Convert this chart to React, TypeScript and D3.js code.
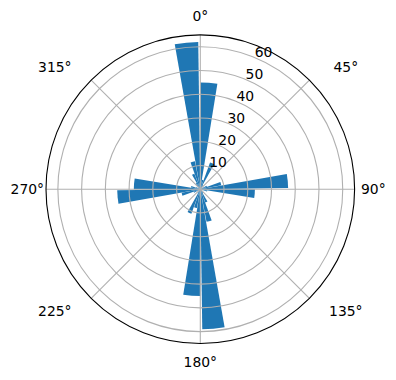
import React from 'react';
import * as d3 from 'd3';

// Bin start angles (degrees, clockwise from north)
const binStarts = [0, 10, 20, 30, 40, 50, 60, 70, 80, 90, 100, 110, 120, 130, 140, 150, 160, 170,
  180, 190, 200, 210, 220, 230, 240, 250, 260, 270, 280, 290, 300, 310, 320, 330, 340, 350];
// Bar heights (counts)
const counts = [45, 4, 12, 2, 1, 1, 3, 9, 37, 23, 3, 1, 0, 1, 2, 6, 14, 59,
  45, 8, 11, 2, 1, 1, 3, 8, 35, 28, 4, 2, 1, 1, 3, 7, 12, 62];
const thetaTicks = [0, 45, 90, 135, 180, 225, 270, 315];
const thetaLabels = ['0°', '45°', '90°', '135°', '180°', '225°', '270°', '315°'];
const rTicks = [10, 20, 30, 40, 50, 60];
const rMax = 65;
const barWidthDeg = 9.2;

export default function App() {
  const W = 396, H = 380;
  const cx = 200.3, cy = 189.2, R = 154.3;
  const r = d3.scaleLinear().domain([0, rMax]).range([0, R]);
  const ang = d3.scaleLinear().domain([0, 360]).range([0, 2 * Math.PI]);
  const arc = d3.arc<any>();
  const font = 'DejaVu Sans, sans-serif';
  const fs = 13.9;
  const pt = (deg: number, rad: number) => {
    const a = ang(deg);
    return [cx + rad * Math.sin(a), cy - rad * Math.cos(a)];
  };
  const labelPos = (deg: number) => {
    if (deg % 90 === 0) return pt(deg, 173);
    const a = ang(deg);
    return [cx + Math.sign(Math.sin(a)) * 145.5, cy - Math.sign(Math.cos(a)) * 122];
  };
  const rLabelAngle = 22.5;
  return (
    <div style={{ position: 'absolute', left: 0, top: 0 }}>
      <svg width={W} height={H} style={{ display: 'block', background: '#fff' }}>
        <g transform={`translate(${cx},${cy})`}>
          {binStarts.map((b, i) => (
            <path
              key={i}
              d={arc({
                innerRadius: 0,
                outerRadius: r(counts[i]),
                startAngle: ang(b),
                endAngle: ang(b + barWidthDeg),
              }) as string}
              fill="#1f77b4"
            />
          ))}
        </g>
        {rTicks.map((t) => (
          <circle key={t} cx={cx} cy={cy} r={r(t)} fill="none" stroke="#b0b0b0" strokeWidth={1.1} />
        ))}
        {thetaTicks.map((t) => {
          const [x, y] = pt(t, R);
          return <line key={t} x1={cx} y1={cy} x2={x} y2={y} stroke="#b0b0b0" strokeWidth={1.1} />;
        })}
        <circle cx={cx} cy={cy} r={R} fill="none" stroke="#000" strokeWidth={1.1} />
        {thetaTicks.map((t, i) => {
          const [x, y] = labelPos(t);
          return (
            <text key={t} x={x} y={y} textAnchor="middle" dominantBaseline="central"
              fontFamily={font} fontSize={fs} fill="#000">{thetaLabels[i]}</text>
          );
        })}
        {rTicks.map((t) => {
          const [x, y] = pt(rLabelAngle, r(t));
          return (
            <text key={t} x={x + 8.7} y={y - 5.7} textAnchor="middle" dominantBaseline="central"
              fontFamily={font} fontSize={fs} fill="#000">{t}</text>
          );
        })}
      </svg>
    </div>
  );
}
